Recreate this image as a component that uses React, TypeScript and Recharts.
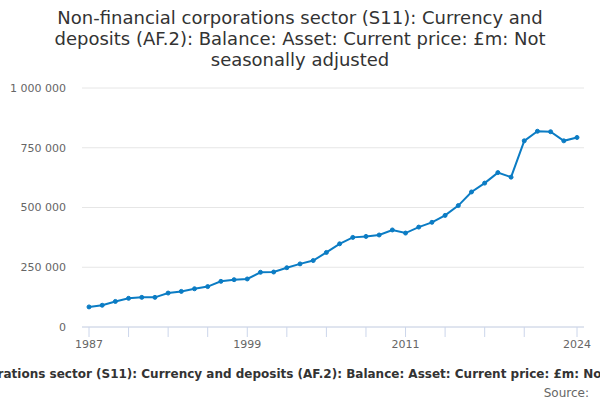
import React from "react";
import { LineChart, Line, XAxis, YAxis, CartesianGrid } from "recharts";

const years = [
  1987, 1988, 1989, 1990, 1991, 1992, 1993, 1994, 1995, 1996, 1997, 1998, 1999,
  2000, 2001, 2002, 2003, 2004, 2005, 2006, 2007, 2008, 2009, 2010, 2011, 2012,
  2013, 2014, 2015, 2016, 2017, 2018, 2019, 2020, 2021, 2022, 2023, 2024,
];
const values = [
  84000, 91000, 107000, 120000, 124000, 124000, 142000, 149000, 160000, 169000,
  191000, 198000, 201000, 229000, 230000, 248000, 264000, 278000, 312000, 348000,
  375000, 379000, 385000, 406000, 393000, 418000, 438000, 467000, 508000, 565000,
  602000, 646000, 627000, 779000, 819000, 817000, 779000, 793000,
];
const xTicks = [1987, 1990, 1993, 1996, 1999, 2002, 2005, 2008, 2011, 2014, 2017, 2020, 2024];
const xLabels = [1987, 1999, 2011, 2024];
const yTicks = [0, 250000, 500000, 750000, 1000000];

const title =
  "Non-financial corporations sector (S11): Currency and deposits (AF.2): Balance: Asset: Current price: £m: Not seasonally adjusted";

const data = years.map((y, i) => ({ year: y, value: values[i] }));

const fmt = (v: number) => String(v).replace(/\B(?=(\d{3})+(?!\d))/g, " ");

const XTick = (props: any) => {
  const { x, y, payload } = props;
  const show = xLabels.includes(payload.value);
  if (!show) return null;
  return (
    <text x={x} y={y} dy="0.71em" textAnchor="middle" fill="#666" fontSize={11} fontFamily="DejaVu Sans">
      {payload.value}
    </text>
  );
};

export default function App() {
  return (
    <div
      style={{
        position: "absolute",
        left: 0,
        top: 0,
        width: 600,
        height: 400,
        overflow: "hidden",
        background: "#fff",
        fontFamily: "DejaVu Sans",
      }}
    >
      <div
        style={{
          position: "absolute",
          left: 40,
          width: 520,
          top: 7,
          textAlign: "center",
          fontSize: 18,
          lineHeight: "21px",
          color: "#333",
        }}
      >
        {title}
      </div>
      <div style={{ position: "absolute", left: 0, top: 0 }}>
        <LineChart
          width={600}
          height={400}
          data={data}
          margin={{ top: 88, right: 16, bottom: 43, left: 0 }}
        >
          <CartesianGrid vertical={false} stroke="#e6e6e6" />
          <XAxis
            dataKey="year"
            type="number"
            domain={[1987, 2024]}
            ticks={xTicks}
            interval={0}
            padding={{ left: 7, right: 7 }}
            axisLine={{ stroke: "#ccd6eb" }}
            tickLine={{ stroke: "#ccd6eb" }}
            tickSize={10}
            tickMargin={3}
            tick={<XTick />}
            height={30}
          />
          <YAxis
            width={82}
            domain={[0, 1000000]}
            ticks={yTicks}
            tickFormatter={fmt}
            axisLine={false}
            tickLine={false}
            tickSize={6}
            tickMargin={10}
            tick={{ fill: "#666", fontSize: 11, fontFamily: "DejaVu Sans" }}
          />
          <Line
            dataKey="value"
            stroke="#0b7cc4"
            strokeWidth={2}
            dot={{ r: 2, fill: "#0b7cc4", stroke: "#0b7cc4", strokeWidth: 1 }}
            isAnimationActive={false}
          />
        </LineChart>
      </div>
      <div
        style={{
          position: "absolute",
          left: 306,
          top: 367,
          transform: "translateX(-50%)",
          whiteSpace: "nowrap",
          fontSize: 12,
          fontWeight: "bold",
          color: "#333",
        }}
      >
        {title}
      </div>
      <div
        style={{
          position: "absolute",
          right: 11,
          top: 386,
          fontSize: 12,
          color: "#666",
        }}
      >
        Source:
      </div>
    </div>
  );
}
